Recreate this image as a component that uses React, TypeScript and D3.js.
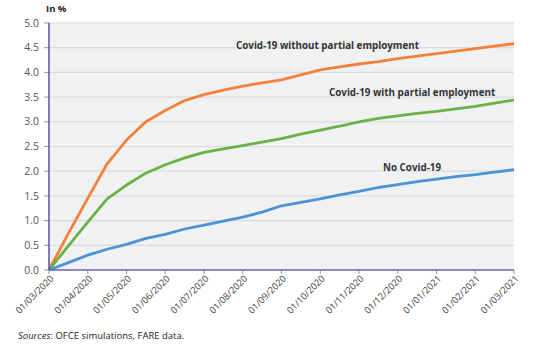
import React from "react";
import * as d3 from "d3";

const monthLabels = [
  "01/03/2020", "01/04/2020", "01/05/2020", "01/06/2020", "01/07/2020",
  "01/08/2020", "01/09/2020", "01/10/2020", "01/11/2020", "01/12/2020",
  "01/01/2021", "01/02/2021", "01/03/2021",
];

// semi-monthly points (index in months)
const steps = d3.range(0, 12.5, 0.5);

const withoutPartial = [
  0, 0.74, 1.45, 2.15, 2.63, 3.0, 3.23, 3.43, 3.55, 3.64, 3.72, 3.79, 3.85,
  3.95, 4.05, 4.11, 4.17, 4.22, 4.28, 4.33, 4.38, 4.43, 4.48, 4.53, 4.58,
];
const withPartial = [
  0, 0.49, 0.97, 1.44, 1.72, 1.96, 2.13, 2.27, 2.38, 2.45, 2.52, 2.59, 2.66,
  2.75, 2.83, 2.91, 3.0, 3.07, 3.12, 3.17, 3.21, 3.26, 3.31, 3.38, 3.44,
];
const noCovid = [
  0, 0.15, 0.3, 0.42, 0.52, 0.64, 0.72, 0.83, 0.91, 0.99, 1.07, 1.17, 1.3,
  1.37, 1.44, 1.52, 1.59, 1.67, 1.73, 1.79, 1.84, 1.89, 1.93, 1.98, 2.03,
];

const yTicks = [0, 0.5, 1, 1.5, 2, 2.5, 3, 3.5, 4, 4.5, 5];

const seriesNames = [
  "Covid-19 without partial employment",
  "Covid-19 with partial employment",
  "No Covid-19",
];

const FONT = "'Open Sans', 'Noto Sans', sans-serif";

export default function App() {
  const left = 49, right = 514, top = 23, bottom = 270;
  const x = d3.scaleLinear().domain([0, 12]).range([left, right]);
  const y = d3.scaleLinear().domain([0, 5]).range([bottom, top]);

  const line = d3
    .line<number>()
    .x((_, i) => x(steps[i]))
    .y((d) => y(d));

  const series = [
    { name: seriesNames[0], values: withoutPartial, color: "#F4803A", lx: 236, ly: 4.54 },
    { name: seriesNames[1], values: withPartial, color: "#6BB145", lx: 329, ly: 3.6 },
    { name: seriesNames[2], values: noCovid, color: "#4A93D4", lx: 383, ly: 2.07 },
  ];

  return (
    <svg
      width={548}
      height={355}
      style={{ position: "absolute", left: 0, top: 0, background: "#fff" }}
      fontFamily={FONT}
    >
      <rect x={left} y={top} width={right - left} height={bottom - top} fill="#f0f1f3" />
      {yTicks.map((t) => (
        <g key={t}>
          {t > 0 && (
            <line x1={left} x2={right} y1={y(t)} y2={y(t)} stroke="#dadbdf" strokeWidth={1.2} />
          )}
          <line x1={left - 5} x2={left} y1={y(t)} y2={y(t)} stroke="#999" strokeWidth={1} />
          <text
            x={39}
            y={y(t)}
            dy="0.35em"
            textAnchor="end"
            fontSize={10.5}
            fill="#555"
          >
            {t.toFixed(1)}
          </text>
        </g>
      ))}
      {monthLabels.map((m, i) => (
        <g key={m}>
          <line x1={x(i)} x2={x(i)} y1={bottom} y2={bottom + 4} stroke="#999" strokeWidth={1} />
          <text
            transform={`translate(${x(i) + 3},${bottom + 7}) rotate(-45)`}
            textAnchor="end"
            dy="0.35em"
            fontSize={9.3}
            fill="#444"
          >
            {m}
          </text>
        </g>
      ))}
      {series.map((s) => (
        <path
          key={s.name}
          d={line(s.values) || ""}
          fill="none"
          stroke={s.color}
          strokeWidth={2.8}
          strokeLinejoin="round"
        />
      ))}
      <line x1={left} x2={left} y1={top} y2={bottom} stroke="#5a4fa8" strokeWidth={1.5} />
      <line x1={left} x2={right} y1={bottom} y2={bottom} stroke="#6a60b0" strokeWidth={1.5} />
      {series.map((s) => (
        <text
          key={s.name + "l"}
          x={s.lx}
          y={y(s.ly)}
          dy="0.35em"
          fontSize={9.8}
          fontWeight={700}
          fill="#333"
        >
          {s.name}
        </text>
      ))}
      <text x={46} y={9} dy="0.35em" fontSize={9.5} fontWeight={700} fill="#222">
        In %
      </text>
      <text x={18} y={336} dy="0.35em" fontSize={9.5} fill="#222">
        <tspan fontStyle="italic">Sources</tspan>: OFCE simulations, FARE data.
      </text>
    </svg>
  );
}
